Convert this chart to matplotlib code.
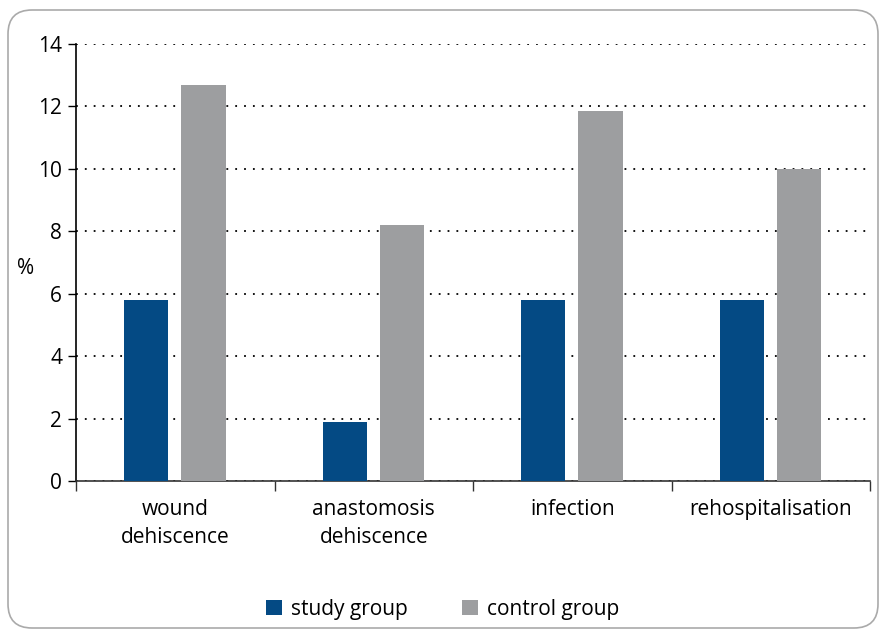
import matplotlib
matplotlib.use("Agg")
import matplotlib.pyplot as plt
import numpy as np
from matplotlib.patches import FancyBboxPatch, Patch
from matplotlib.transforms import IdentityTransform

plt.rcParams['font.family'] = ['Open Sans', 'DejaVu Sans']

categories = ['wound\ndehiscence', 'anastomosis\ndehiscence', 'infection', 'rehospitalisation']
study = [5.8, 1.9, 5.8, 5.8]
control = [12.7, 8.2, 11.85, 10.0]
yticks = [0, 2, 4, 6, 8, 10, 12, 14]

blue = '#044a84'
grey = '#9d9ea0'
fs = 15

fig = plt.figure(figsize=(8.8, 6.31), dpi=100)

# rounded outer frame, drawn in pixel units
frame = FancyBboxPatch((8, 3), 870, 618, boxstyle="round,pad=0,rounding_size=24",
                       transform=IdentityTransform(), facecolor='white',
                       edgecolor='#aaaaaa', linewidth=1.2, zorder=0)
fig.patches.append(frame)

ax = fig.add_axes([0.0864, 0.2377, 0.9023, 0.6926])
ax.set_zorder(2)
ax.patch.set_alpha(0)

x = np.arange(len(categories))
w = 0.222
ax.bar(x - 0.146, study, w, color=blue, zorder=3)
ax.bar(x + 0.142, control, w, color=grey, zorder=3)

ax.set_xlim(-0.5, len(categories) - 0.5)
ax.set_ylim(0, 14)
ax.set_yticks(yticks)
ax.yaxis.grid(True, linestyle=(0, (1, 3.9)), color='black', linewidth=1.3, zorder=1)

ax.set_xticks(x)
ax.set_xticklabels(categories, fontsize=fs, linespacing=1.45)
ax.set_xticks(np.arange(len(categories) + 1) - 0.5, minor=True)
ax.tick_params(axis='x', which='major', length=0, pad=13)
ax.tick_params(axis='x', which='minor', length=7, width=1, color='#333333')
ax.tick_params(axis='y', length=6, width=1, labelsize=fs, pad=4)

for s in ['top', 'right']:
    ax.spines[s].set_visible(False)
ax.spines['left'].set_linewidth(1.2)
ax.spines['bottom'].set_linewidth(1.2)
ax.spines['bottom'].set_color('#333333')

fig.text(0.019, 0.575, '%', fontsize=fs, ha='left', va='center', zorder=3)

handles = [Patch(facecolor=blue, label='study group'),
           Patch(facecolor=grey, label='control group')]
leg = fig.legend(handles=handles, loc='center', bbox_to_anchor=(0.503, 0.034), ncol=2,
                 frameon=False, fontsize=fs, handlelength=0.75, handleheight=0.75,
                 handletextpad=0.45, columnspacing=2.6)
leg.set_zorder(3)

fig.savefig('out.png', dpi=100)
